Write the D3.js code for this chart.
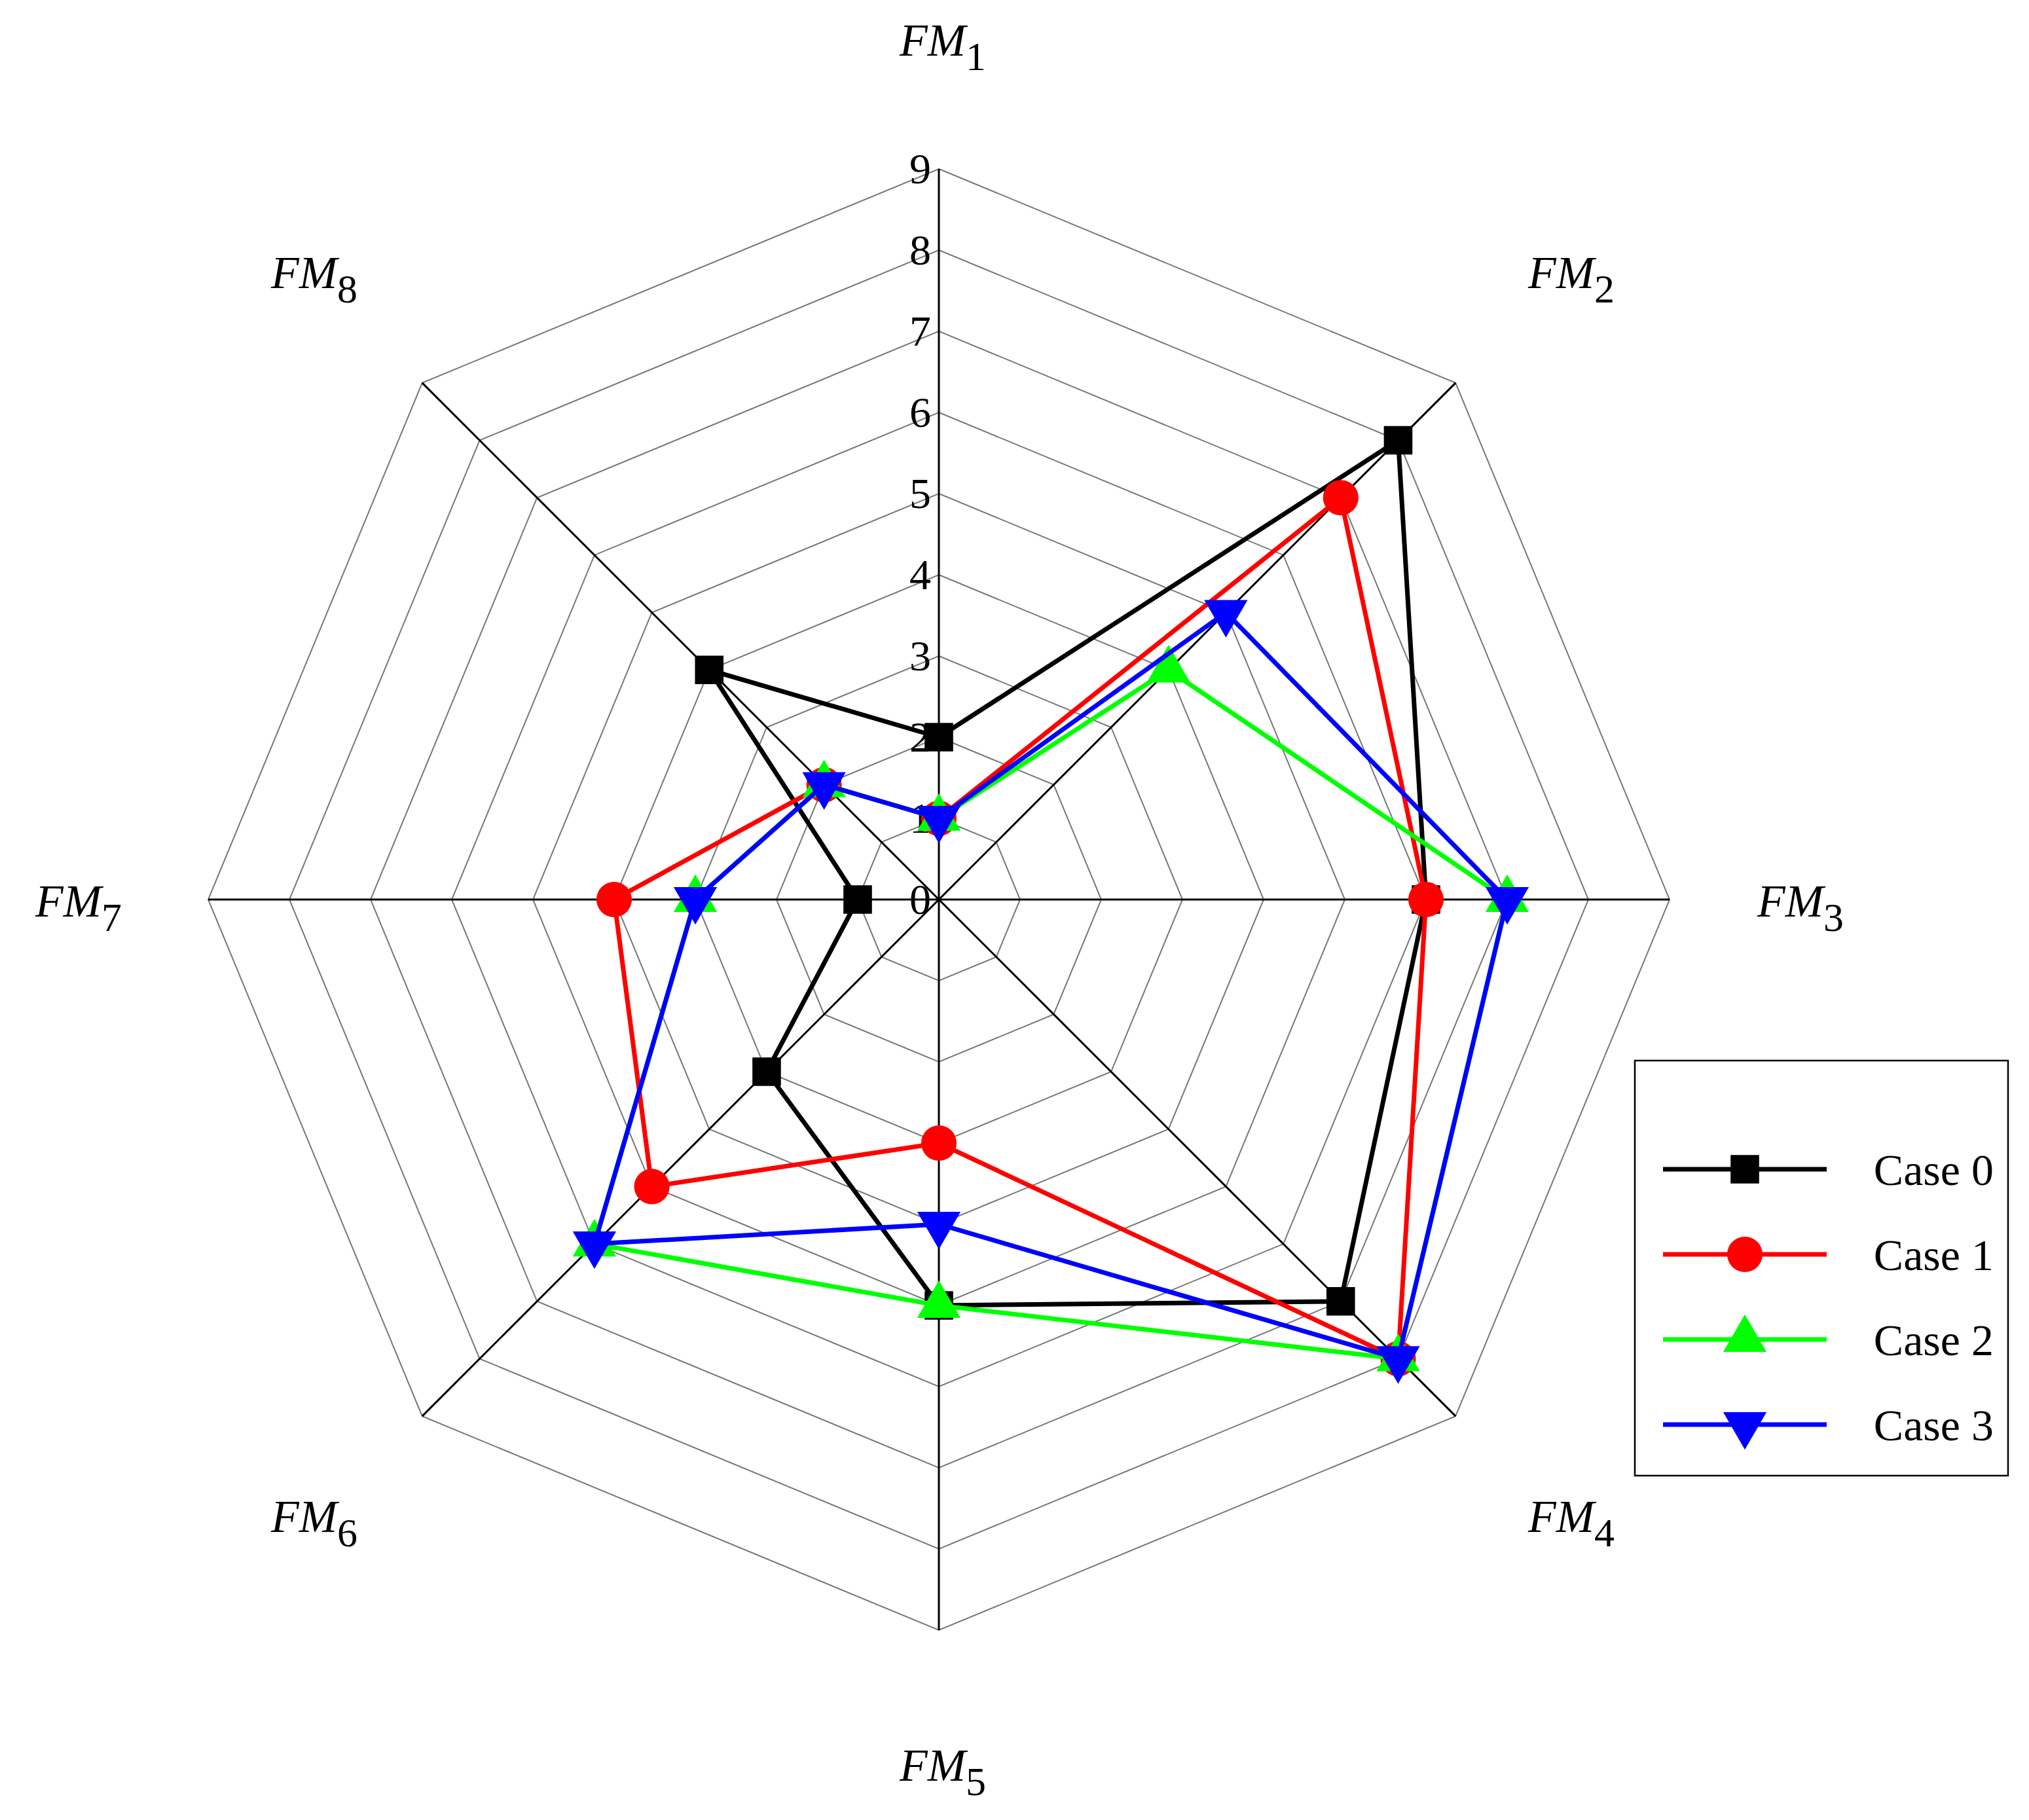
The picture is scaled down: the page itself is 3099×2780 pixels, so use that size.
<!DOCTYPE html>
<html><head><meta charset="utf-8">
<script src="https://cdn.jsdelivr.net/npm/d3@7"></script>
<style>body{margin:0;background:#fff}</style></head>
<body><svg id="c" width="3099" height="2780"></svg>
<script>
const axes = ["1","2","3","4","5","6","7","8"];
const ticks = [0,1,2,3,4,5,6,7,8,9];
const case0 = [2,8,6,7,5,3,1,4];
const case1 = [1,7,6,8,3,5,4,2];
const case2 = [1,4,7,8,5,6,3,2];
const case3 = [1,5,7,8,4,6,3,2];
const seriesNames = ["Case 0","Case 1","Case 2","Case 3"];
const colors = ["#000000","#ff0000","#00ff00","#0000ff"];
const symbols = [d3.symbolSquare,d3.symbolCircle,d3.symbolTriangle,"down"];
const data=[case0,case1,case2,case3];

const svg=d3.select("#c");
const cx=1434, cy=1374, R=1116;
const r=d3.scaleLinear().domain([0,9]).range([0,R]);
const ang=i=>-Math.PI/2+i*Math.PI/4;
const pt=(i,v)=>[cx+r(v)*Math.cos(ang(i)), cy+r(v)*Math.sin(ang(i))];
const g=svg.append("g");
ticks.slice(1).forEach(t=>{
  g.append("polygon").attr("points",axes.map((a,i)=>pt(i,t).join(",")).join(" "))
   .attr("fill","none").attr("stroke","#777").attr("stroke-width",2);
});
axes.forEach((a,i)=>{
  const p=pt(i,9);
  g.append("line").attr("x1",cx).attr("y1",cy).attr("x2",p[0]).attr("y2",p[1]).attr("stroke","#000").attr("stroke-width",3);
});
ticks.forEach(t=>{
  g.append("text").attr("x",cx-12).attr("y",r(-t)+cy+22).attr("text-anchor","end")
   .attr("font-family","Liberation Serif, serif").attr("font-size",66).text(t);
});
const labPos=[[1440,85],[2400,440],[2750,1400],[2400,2340],[1440,2720],[480,2340],[120,1400],[480,440]];
axes.forEach((a,i)=>{
  const t=svg.append("text").attr("x",labPos[i][0]).attr("y",labPos[i][1]).attr("text-anchor","middle")
   .attr("font-family","Liberation Serif, serif").attr("font-size",70);
  t.append("tspan").attr("font-style","italic").text("FM");
  t.append("tspan").attr("dy",22).attr("font-size",62).text(a);
});
function sym(k,size){
  if(symbols[k]==="down") return d3.symbol(d3.symbolTriangle,size)();
  return d3.symbol(symbols[k],size)();
}
const sizes=[1900,2300,1900,1900];
data.forEach((d,k)=>{
  const line=d3.line().curve(d3.curveLinearClosed);
  svg.append("path").attr("d",line(d.map((v,i)=>pt(i,v)))).attr("fill","none").attr("stroke",colors[k]).attr("stroke-width",7);
  d.forEach((v,i)=>{
    const p=pt(i,v);
    svg.append("path").attr("d",sym(k,sizes[k])).attr("fill",colors[k])
     .attr("transform",`translate(${p[0]},${p[1]})${symbols[k]==="down"?" rotate(180)":""}`);
  });
});
const lg=svg.append("g");
lg.append("rect").attr("x",2497).attr("y",1620).attr("width",570).attr("height",634).attr("fill","#fff").attr("stroke","#000").attr("stroke-width",2.5);
seriesNames.forEach((n,k)=>{
  const y=1786+k*130;
  lg.append("line").attr("x1",2540).attr("x2",2790).attr("y1",y).attr("y2",y).attr("stroke",colors[k]).attr("stroke-width",7);
  lg.append("path").attr("d",sym(k,sizes[k])).attr("fill",colors[k]).attr("transform",`translate(2665,${y})${symbols[k]==="down"?" rotate(180)":""}`);
  lg.append("text").attr("x",3045).attr("y",y+24).attr("text-anchor","end").attr("font-family","Liberation Serif, serif").attr("font-size",68).text(n);
});
</script></body></html>
